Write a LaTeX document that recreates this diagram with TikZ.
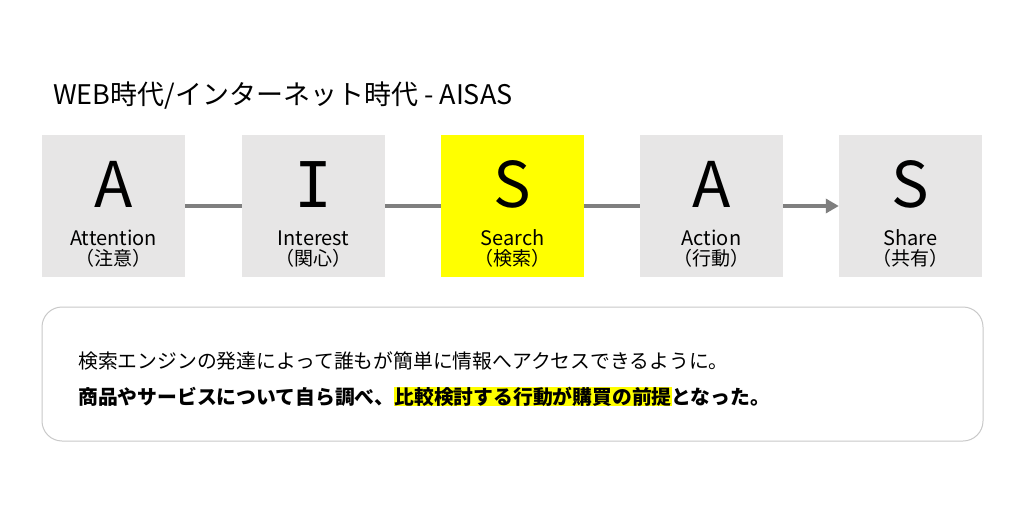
\documentclass[tikz,border=0pt]{standalone}
\usepackage{fontspec}
\setmainfont{Noto Sans CJK JP}
\newfontfamily\slabfont{DejaVu Sans Mono}
\usetikzlibrary{arrows.meta}
\definecolor{boxgray}{HTML}{E7E6E6}
\definecolor{linegray}{HTML}{7F7F7F}
\definecolor{framegray}{HTML}{C9C9C9}
\definecolor{hiyellow}{HTML}{FFFF00}
\tikzset{
  stagebox/.style={minimum width=143pt,minimum height=142pt,inner sep=0pt,draw=none,fill=boxgray},
  bigletter/.style={anchor=base,inner sep=0pt,font=\fontsize{63}{70}\selectfont},
  stagelabel/.style={anchor=base,inner sep=0pt,font=\fontsize{20}{23}\selectfont},
  stagelabeljp/.style={anchor=base,inner sep=0pt,font=\fontsize{19}{22}\selectfont},
  link/.style={draw=linegray,line width=4pt},
  bodytext/.style={anchor=base west,inner sep=0pt,font=\fontsize{19.8}{24}\selectfont},
}
\begin{document}
\begin{tikzpicture}[x=1pt,y=-1pt]
\useasboundingbox (0,0) rectangle (1023,511);
\fill[white] (0,0) rectangle (1023,511);
% title
\node[anchor=base west,inner sep=0pt,font=\fontsize{27}{30}\selectfont] (title) at (53,104) {WEB時代/インターネット時代 - AISAS};
% boxes
\node[stagebox] (b1) at (113.5,206) {};
\node[stagebox] (b2) at (313.5,206) {};
\node[stagebox,fill=hiyellow] (b3) at (512.5,206) {};
\node[stagebox] (b4) at (711.5,206) {};
\node[stagebox] (b5) at (910.5,206) {};
% letters
\node[bigletter] (l1) at (113.5,207) {A};
\node[bigletter,font=\fontsize{63}{70}\selectfont\slabfont] (l2) at (313.5,207) {I};
\node[bigletter] (l3) at (512.5,207) {S};
\node[bigletter] (l4) at (711.5,207) {A};
\node[bigletter] (l5) at (910.5,207) {S};
% labels
\node[stagelabel] (e1) at (113.5,245) {Attention};
\node[stagelabeljp] (j1) at (113.5,265) {（注意）};
\node[stagelabel] (e2) at (313.5,245) {Interest};
\node[stagelabeljp] (j2) at (313.5,265) {（関心）};
\node[stagelabel] (e3) at (512.5,245) {Search};
\node[stagelabeljp] (j3) at (512.5,265) {（検索）};
\node[stagelabel] (e4) at (711.5,245) {Action};
\node[stagelabeljp] (j4) at (711.5,265) {（行動）};
\node[stagelabel] (e5) at (910.5,245) {Share};
\node[stagelabeljp] (j5) at (910.5,265) {（共有）};
% connectors
\draw[link] (b1.east) -- (b2.west);
\draw[link] (b2.east) -- (b3.west);
\draw[link] (b3.east) -- (b4.west);
\draw[link,-{Triangle[length=13pt,width=14pt]}] (b4.east) -- (b5.west);
% description frame
\node[draw=framegray,line width=1pt,rounded corners=20pt,minimum width=941pt,minimum height=134pt,inner sep=0pt] (frame) at (512.5,374) {};
\node[bodytext] (t1) at (78,368) {検索エンジンの発達によって誰もが簡単に情報へアクセスできるように。};
\node[bodytext,font=\fontsize{19.8}{24}\selectfont\bfseries] (t2) at (78,404) {商品やサービスについて自ら調べ、{\setlength{\fboxsep}{0pt}\colorbox{hiyellow}{比較検討する行動が購買の前提}}となった。};
\end{tikzpicture}
\end{document}
